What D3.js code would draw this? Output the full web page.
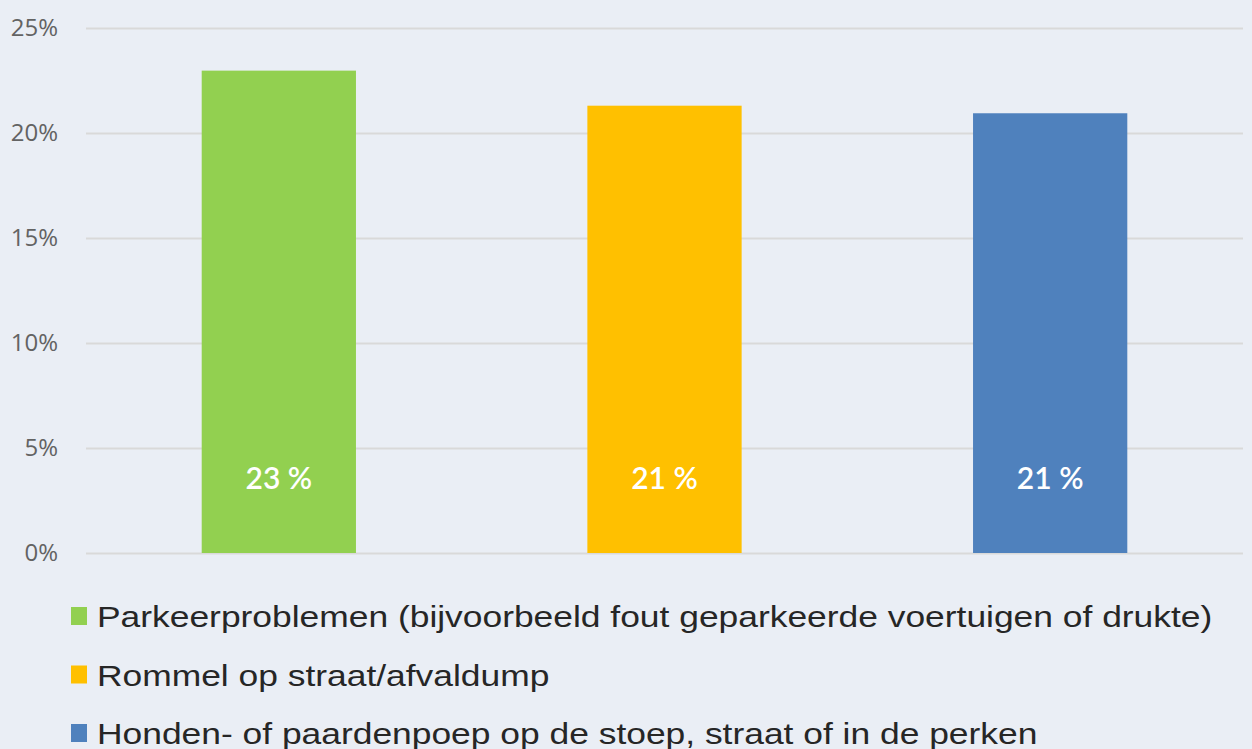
<!DOCTYPE html>
<html>
<head>
<meta charset="utf-8">
<script src="https://cdn.jsdelivr.net/npm/d3@7"></script>
<style>
  html, body { margin: 0; padding: 0; background: #eaeef5; }
  svg { display: block; }
</style>
</head>
<body>
<svg id="chart"></svg>
<script>
// chart data
var categories = [
    "Parkeerproblemen (bijvoorbeeld fout geparkeerde voertuigen of drukte)",
    "Rommel op straat/afvaldump",
    "Honden- of paardenpoep op de stoep, straat of in de perken"
];
var values = [22.97, 21.3, 20.94];
var valueLabels = ["23 %", "21 %", "21 %"];
var colors = ["#92d050", "#ffc000", "#4f81bd"];
var yTicks = [0, 5, 10, 15, 20, 25];

var W = 1252, H = 749;
var margin = {top: 28, right: 9, bottom: 196, left: 86},
    width = W - margin.left - margin.right,
    height = H - margin.top - margin.bottom;

var svg = d3.select("#chart")
    .attr("width", W)
    .attr("height", H);

svg.append("rect")
    .attr("width", W)
    .attr("height", H)
    .attr("fill", "#eaeef5");

var g = svg.append("g")
    .attr("transform", "translate(" + margin.left + "," + margin.top + ")");

var x = d3.scaleBand()
    .domain(categories)
    .range([0, width])
    .paddingInner(0.6)
    .paddingOuter(0.3);

var y = d3.scaleLinear()
    .domain([0, 25])
    .range([height, 0]);

// grid lines + tick labels
var yAxis = g.append("g")
    .call(d3.axisLeft(y)
        .tickValues(yTicks)
        .tickSize(-width)
        .tickPadding(28)
        .tickFormat(function (d) { return d + "%"; }));
yAxis.select(".domain").remove();
yAxis.selectAll(".tick line")
    .attr("stroke", "#d9d9d9")
    .attr("stroke-width", 2);
yAxis.selectAll(".tick text")
    .attr("fill", "#636363")
    .style("font-family", "'Open Sans', sans-serif")
    .style("font-size", "24px");

// bars
g.selectAll(".bar")
    .data(categories)
    .enter()
    .append("rect")
    .attr("class", "bar")
    .attr("x", function (d) { return x(d); })
    .attr("width", x.bandwidth())
    .attr("y", function (d, i) { return y(values[i]); })
    .attr("height", function (d, i) { return height - y(values[i]); })
    .attr("fill", function (d, i) { return colors[i]; });

// value labels
g.selectAll(".lbl")
    .data(categories)
    .enter()
    .append("text")
    .attr("class", "lbl")
    .attr("x", function (d) { return x(d) + x.bandwidth() / 2; })
    .attr("y", 489 - margin.top)
    .attr("text-anchor", "middle")
    .attr("fill", "#ffffff")
    .style("font-family", "Lato, sans-serif")
    .style("font-weight", "600")
    .style("font-size", "30px")
    .text(function (d, i) { return valueLabels[i]; });

// legend (text in the picture is stretched horizontally)
var legend = svg.append("g")
    .attr("transform", "translate(71,0)");
var item = legend.selectAll(".item")
    .data(categories)
    .enter()
    .append("g")
    .attr("class", "item")
    .attr("transform", function (d, i) { return "translate(0," + (627 + i * 58.5) + ")"; });
item.append("rect")
    .attr("x", 0)
    .attr("y", -20)
    .attr("width", 16)
    .attr("height", 18)
    .attr("fill", function (d, i) { return colors[i]; });
item.append("text")
    .attr("transform", "translate(26,0) scale(1.18,1)")
    .attr("fill", "#262626")
    .style("font-family", "'Liberation Sans', Arial, sans-serif")
    .style("font-size", "30px")
    .text(function (d) { return d; });
</script>
</body>
</html>
